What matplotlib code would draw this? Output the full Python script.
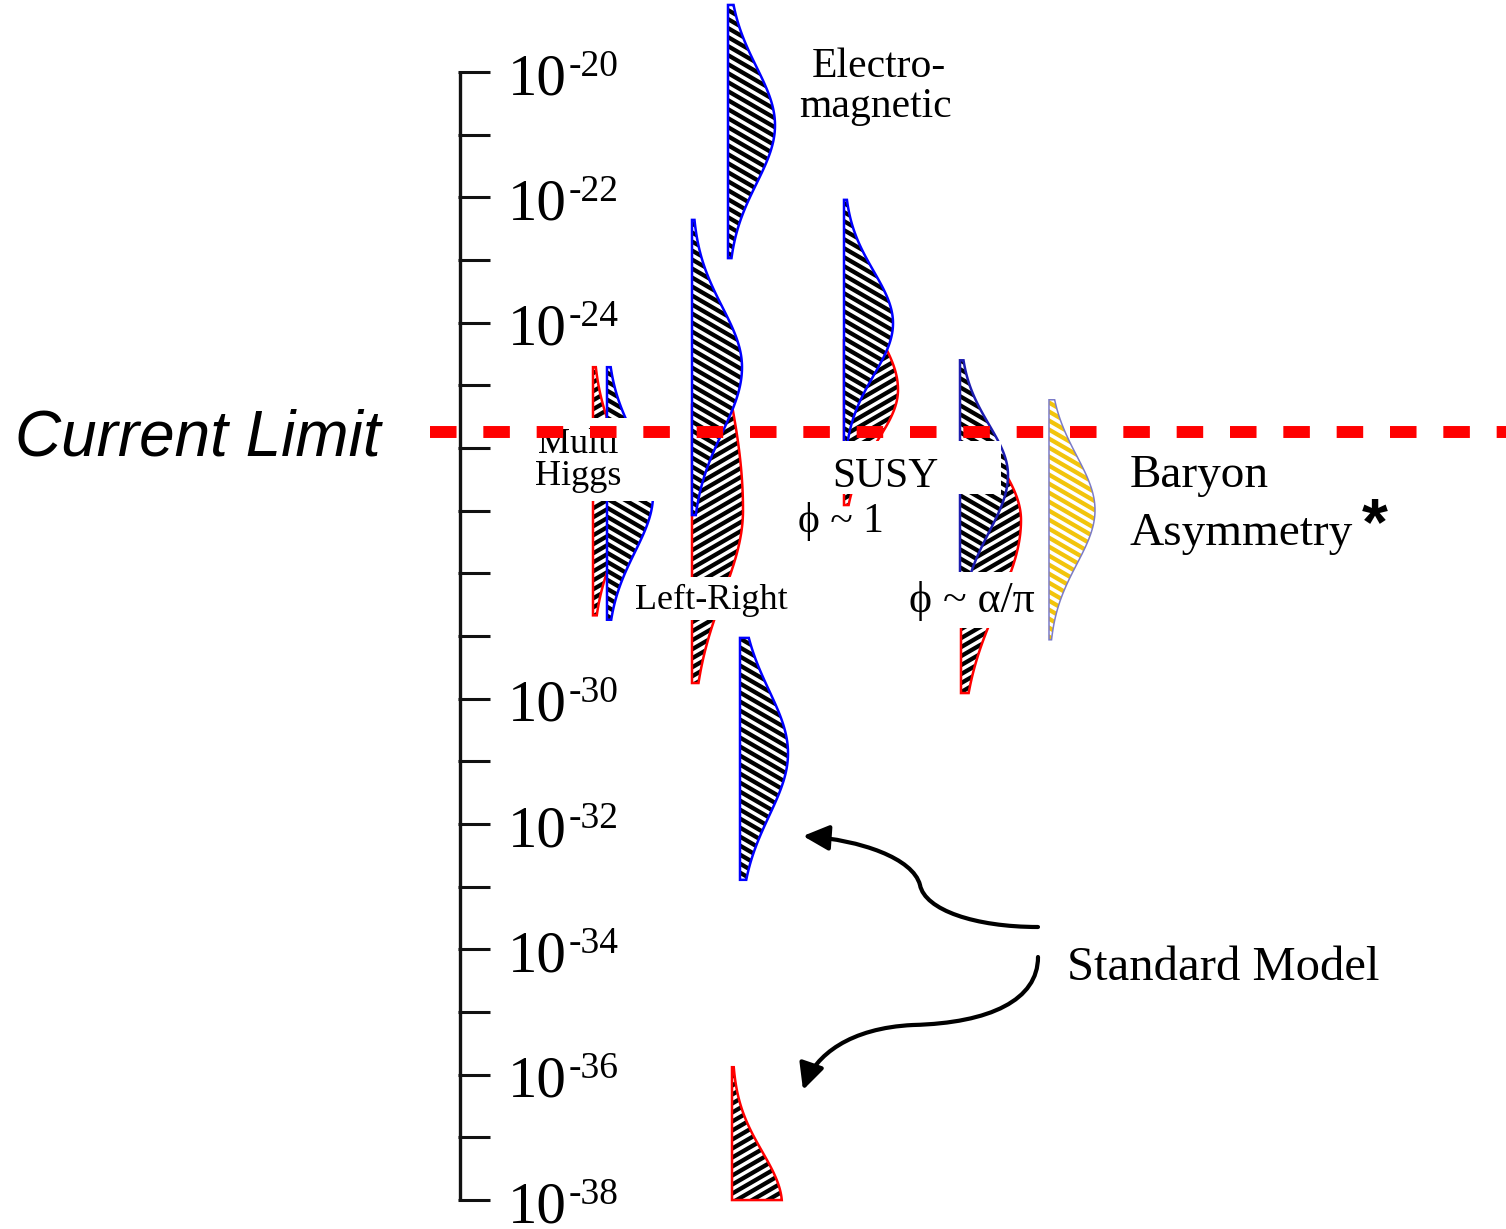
import numpy as np
import matplotlib.pyplot as plt
from matplotlib.patches import Polygon, Rectangle, FancyArrowPatch
from matplotlib.collections import LineCollection
from matplotlib.transforms import IdentityTransform, blended_transform_factory
from matplotlib.path import Path

plt.rcParams["font.family"] = ["Liberation Serif", "DejaVu Serif"]

# electron EDM scale, log10(d / e cm)
decades = list(range(-20, -39, -1))
labelled = [-20, -22, -24, -30, -32, -34, -36, -38]
current_limit = -25.74

# theory predictions, one bell per curve (log10 units); red curve of a pair first
model = ["Multi Higgs", "Multi Higgs", "Left-Right", "Left-Right", "Electromagnetic",
         "SUSY", "SUSY", "alpha/pi", "alpha/pi", "Baryon Asymmetry",
         "Standard Model", "Standard Model"]
center = [-26.75, -26.75, -26.99, -24.71, -20.85, -25.07, -24.01, -27.15, -26.43, -26.99, -30.87, -38.08]
spread_up = [0.91, 0.91, 2.39, 0.96, 0.93, 0.93, 0.83, 0.96, 0.80, 0.86, 1.00, 0.85]
spread_down = [0.91, 0.91, 1.36, 1.04, 0.93, 0.83, 0.83, 1.36, 0.91, 0.86, 1.00, 0.85]
upper_end = [-24.71, -24.71, -25.31, -22.36, -18.93, -24.28, -22.04, -26.35, -24.60, -25.23, -29.03, -35.88]
lower_end = [-28.67, -28.74, -29.75, -27.07, -22.97, -26.91, -25.95, -29.91, -28.43, -29.06, -32.89, -38.00]
peak = [0.70, 0.92, 1.02, 1.00, 0.94, 1.08, 0.98, 1.20, 0.96, 0.92, 0.96, 1.00]

# layout
W, H = 1506, 1229
TOP_ROW = 72            # pixel row of the 1e-20 tick
PX_PER_DECADE = 62.67
PEAK_PX = 50
AXIS_X = 460
base_x = [593, 607, 692, 692, 728, 844, 844, 961, 960, 1049, 740, 732]
line_col = ["#ff0000", "#0000ff", "#ff0000", "#0000ff", "#0000ff", "#ff0000", "#0000ff",
            "#ff0000", "#1c1cb0", "#7b7bc8", "#0000ff", "#ff0000"]
hatch_col = ["black"] * 9 + ["#f2c40c"] + ["black"] * 2
hatch_dir = [1, -1, 1, -1, -1, 1, -1, 1, -1, -1, -1, 1]

fig = plt.figure(figsize=(W / 100, H / 100), dpi=100)
ax = fig.add_axes([0, 0, 1, 1])
ax.set_xlim(0, W)
ax.set_ylim(-20 - (H - TOP_ROW) / PX_PER_DECADE, -20 + TOP_ROW / PX_PER_DECADE)
ax.axis("off")
lay = fig.add_axes([0, 0, 1, 1])
lay.set_xlim(0, W)
lay.set_ylim(H, 0)
lay.axis("off")


def hatch(patch, color, direction, zorder, angle=30, gap=7.8, lw=3.1):
    bb = patch.get_window_extent()
    t = np.deg2rad(angle)
    d = np.array([np.cos(t), direction * np.sin(t)])
    n = np.array([-d[1], d[0]])
    corners = np.array([[bb.x0, bb.y0], [bb.x1, bb.y0], [bb.x0, bb.y1], [bb.x1, bb.y1]])
    proj = corners @ n
    mid = np.array([(bb.x0 + bb.x1) / 2, (bb.y0 + bb.y1) / 2])
    half = np.hypot(bb.width, bb.height)
    segs = []
    for o in np.arange(np.floor(proj.min() / gap) * gap, proj.max() + gap, gap):
        p = n * o + d * (mid @ d)
        segs.append([p - d * half, p + d * half])
    lc = LineCollection(segs, colors=color, linewidths=lw, transform=IdentityTransform(),
                        zorder=zorder)
    ax.add_collection(lc, autolim=False)
    lc.set_clip_path(patch)


for i in range(len(model)):
    e = np.linspace(upper_end[i], lower_end[i], 300)
    s = np.where(e > center[i], spread_up[i], spread_down[i])
    w = peak[i] * PEAK_PX * np.exp(-0.5 * ((e - center[i]) / s) ** 2)
    verts = [(base_x[i], upper_end[i])] + list(zip(base_x[i] + w, e)) + [(base_x[i], lower_end[i])]
    z = 10 + 3 * i
    body = Polygon(verts, closed=True, facecolor="white", edgecolor="none", zorder=z)
    ax.add_patch(body)
    hatch(body, hatch_col[i], hatch_dir[i], z + 1)
    ax.add_patch(Polygon(verts, closed=True, facecolor="none", edgecolor=line_col[i],
                         lw=1.1 if i == 9 else 1.8, zorder=z + 2, joinstyle="miter"))

# scale bar with decade ticks
ax.plot([AXIS_X, AXIS_X], [decades[0], decades[-1]], color="#111111", lw=2.4,
        solid_capstyle="butt")
for d in decades:
    ax.plot([AXIS_X - 1.5, AXIS_X + 30], [d, d], color="#111111", lw=2.2, solid_capstyle="butt")
for d in labelled:
    ten = ax.annotate("10", xy=(508, d), xytext=(0, -16), textcoords="offset points",
                      fontsize=42.5, va="baseline", ha="left")
    ax.annotate("-%d" % abs(d), xy=(1, 1), xycoords=ten, xytext=(1, 3),
                textcoords="offset points", fontsize=27, va="top", ha="left")

# white label boxes that sit over the curves
for x0, y0, x1, y1 in [(528, 418, 662, 501), (628, 577, 792, 620), (800, 441, 1001, 494),
                       (795, 507, 892, 550), (900, 572, 1043, 628)]:
    lay.add_patch(Rectangle((x0, y0), x1 - x0, y1 - y0, facecolor="white",
                            edgecolor="none", zorder=2))

labels = [
    (578, 453, "Multi", 26, "center"), (578, 485, "Higgs", 26, "center"),
    (711, 609, "Left-Right", 26, "center"),
    (885, 487, "SUSY", 30, "center"), (841, 532, "\u03d5 ~ 1", 30, "center"),
    (972, 612, "\u03d5 ~ \u03b1/\u03c0", 31.5, "center"),
    (879, 77, "Electro-", 30, "center"), (875, 117, "magnetic", 30, "center"),
    (1130, 487, "Baryon", 34, "left"), (1130, 545, "Asymmetry", 34, "left"),
    (1067, 980, "Standard Model", 35, "left"),
]
for x, y, txt, size, ha in labels:
    lay.text(x, y, txt, fontsize=size, ha=ha, va="baseline", zorder=3)
lay.text(1362, 544, "*", fontsize=48, fontweight="bold", family="Liberation Sans",
         va="baseline", zorder=3)
lay.text(15, 455, "Current Limit", fontsize=46, style="italic", family="Liberation Sans",
         va="baseline", zorder=3)

# arrows from the Standard Model label
C = Path.CURVE4
for verts in ([(1038, 927), (975, 927), (925, 910), (920, 885),
               (913, 858), (860, 840), (803, 836)],
              [(1038, 957), (1038, 1000), (990, 1023), (913, 1025),
               (850, 1028), (815, 1055), (803, 1090)]):
    path = Path(verts, [Path.MOVETO, C, C, C, C, C, C])
    lay.add_patch(FancyArrowPatch(path=path, arrowstyle="-|>,head_length=0.45,head_width=0.22",
                                  mutation_scale=35, lw=3, color="black",
                                  shrinkA=0, shrinkB=0, zorder=3))

# present experimental bound
tr = blended_transform_factory(lay.transAxes, ax.transData)
lay.plot([430 / W, 1], [current_limit, current_limit], transform=tr, color="#ff0000",
         lw=8.6, linestyle=(0, (19.1 / 8.6, 19.3 / 8.6)), zorder=5)

fig.savefig("out.png", dpi=100, facecolor="white")
